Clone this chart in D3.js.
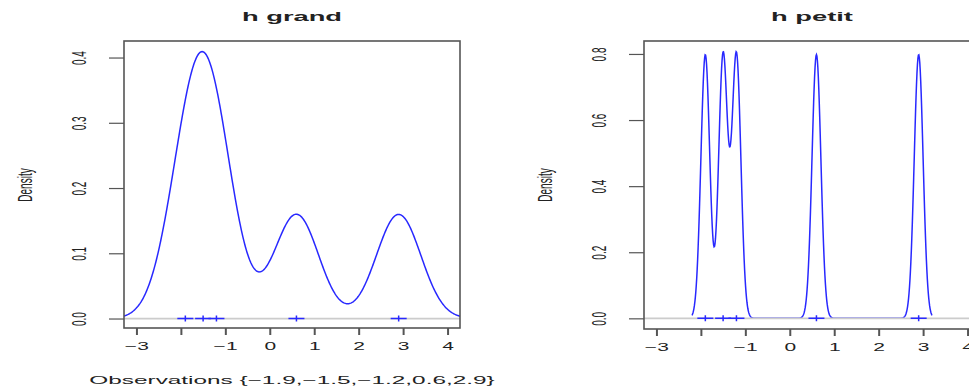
<!DOCTYPE html>
<html lang="fr">
  <head>
    <meta charset="UTF-8" />
    <title>Densité : h grand / h petit</title>
    <script src="https://d3js.org/d3.v7.min.js"></script>
    <style>
      body {
        margin: 0;
        background: #fff;
        font-family: "Liberation Sans", Arial, sans-serif;
      }
      svg text {
        fill: #222;
      }
      .tick line {
        stroke: #555;
      }
    </style>
  </head>
  <body>
    <script>
      // observations and bandwidths of the two density estimates
      var observations = [-1.9, -1.5, -1.2, 0.6, 2.9];
      var bandwidths = [0.5, 0.1];
      var panelTitles = ["h grand", "h petit"];
      var xLimits = [-3, 4];
      var xTickValues = [-3, -2, -1, 0, 1, 2, 3, 4];
      var xTickLabels = ["\u22123", "", "\u22121", "0", "1", "2", "3", "4"];
      var yTickValues = [
        [0, 0.1, 0.2, 0.3, 0.4],
        [0, 0.2, 0.4, 0.6, 0.8],
      ];
      var yTickLabels = [
        ["0.0", "0.1", "0.2", "0.3", "0.4"],
        ["0.0", "0.2", "0.4", "0.6", "0.8"],
      ];
      var xLabel = "Observations {\u22121.9,\u22121.5,\u22121.2,0.6,2.9}";
      var yLabel = "Density";

      var width = 969,
        height = 389;
      var sx = 2.1; // the picture is stretched sideways
      var panels = [
        { left: 124, top: 41, w: 336, h: 287 },
        { left: 644, top: 41, w: 336, h: 288 },
      ];

      var svg = d3
        .select("body")
        .append("svg")
        .attr("width", width)
        .attr("height", height);

      // gaussian kernel estimate, evaluated on a 512 point grid (as R does)
      function density(obs, h) {
        var lo = d3.min(obs) - 3 * h,
          hi = d3.max(obs) + 3 * h;
        var step = (hi - lo) / 511;
        return d3.range(512).map(function (i) {
          var x = lo + i * step;
          var y = d3.mean(obs, function (o) {
            var u = (x - o) / h;
            return Math.exp(-0.5 * u * u) / (h * Math.sqrt(2 * Math.PI));
          });
          return [x, y];
        });
      }

      var pad = 0.04 * (xLimits[1] - xLimits[0]);

      panels.forEach(function (p, k) {
        var pts = density(observations, bandwidths[k]);
        var ymin = d3.min(pts, function (d) { return d[1]; });
        var ymax = d3.max(pts, function (d) { return d[1]; });
        var ypad = 0.04 * (ymax - ymin);

        var x = d3
          .scaleLinear()
          .domain([xLimits[0] - pad, xLimits[1] + pad])
          .range([0, p.w]);
        var y = d3
          .scaleLinear()
          .domain([ymin - ypad, ymax + ypad])
          .range([p.h, 0]);

        var g = svg
          .append("g")
          .attr("transform", "translate(" + p.left + "," + p.top + ")");

        g.append("clipPath")
          .attr("id", "clip" + k)
          .append("rect")
          .attr("width", p.w)
          .attr("height", p.h);

        var plot = g.append("g").attr("clip-path", "url(#clip" + k + ")");

        plot
          .append("path")
          .datum(pts)
          .attr("fill", "none")
          .attr("stroke", "#2828ff")
          .attr("stroke-width", 1.5)
          .attr(
            "d",
            d3
              .line()
              .x(function (d) { return x(d[0]); })
              .y(function (d) { return y(d[1]); })
          );

        plot
          .append("line")
          .attr("x1", 0)
          .attr("x2", p.w)
          .attr("y1", y(0))
          .attr("y2", y(0))
          .attr("stroke", "#cccccc")
          .attr("stroke-width", 1.8);

        // "+" markers at each observation
        plot
          .selectAll(".obs")
          .data(observations)
          .enter()
          .append("path")
          .attr("class", "obs")
          .attr("transform", function (d) {
            return "translate(" + x(d) + "," + y(0) + ")";
          })
          .attr("d", "M-8,0H8M0,-3V3")
          .attr("fill", "none")
          .attr("stroke", "#2828ff")
          .attr("stroke-width", 1.5);

        g.append("rect")
          .attr("width", p.w)
          .attr("height", p.h)
          .attr("fill", "none")
          .attr("stroke", "#555")
          .attr("stroke-width", 1.6);

        // x axis
        var xa = g
          .append("g")
          .attr("transform", "translate(0," + p.h + ")")
          .call(
            d3
              .axisBottom(x)
              .tickValues(xTickValues)
              .tickFormat(function (d, i) { return xTickLabels[i]; })
              .tickSize(7)
              .tickSizeOuter(0)
          );
        xa.select(".domain").remove();
        xa.selectAll(".tick line").attr("stroke-width", 2);
        xa.selectAll("text")
          .attr("y", 0)
          .attr("dy", null)
          .attr("font-size", 10)
          .attr("font-family", "Liberation Sans, Arial, sans-serif")
          .attr("transform", "translate(0,22) scale(" + sx + ",1)");

        // y axis
        var ya = g.append("g").call(
          d3
            .axisLeft(y)
            .tickValues(yTickValues[k])
            .tickFormat(function (d, i) { return yTickLabels[k][i]; })
            .tickSize(15)
            .tickSizeOuter(0)
        );
        ya.select(".domain").remove();
        ya.selectAll(".tick line").attr("stroke-width", 1.2);
        ya.selectAll("text")
          .attr("x", 0)
          .attr("dy", null)
          .attr("text-anchor", "middle")
          .attr("font-size", 10)
          .attr("font-family", "Liberation Sans, Arial, sans-serif")
          .attr("transform", "translate(-38,0) scale(" + sx + ",1) rotate(-90)");

        // titles and labels
        g.append("text")
          .attr("text-anchor", "middle")
          .attr("font-weight", "bold")
          .attr("font-size", 13)
          .attr("transform", "translate(" + p.w / 2 + "," + (21 - p.top) + ") scale(" + sx + ",1)")
          .text(panelTitles[k]);

        g.append("text")
          .attr("text-anchor", "middle")
          .attr("font-size", 10)
          .attr("transform", "translate(-92," + (185 - p.top) + ") scale(" + sx + ",1) rotate(-90)")
          .text(yLabel);

        if (k === 0) {
          g.append("text")
            .attr("text-anchor", "middle")
            .attr("font-size", 11.6)
            .attr("transform", "translate(" + p.w / 2 + "," + (384 - p.top) + ") scale(" + sx + ",1)")
            .text(xLabel);
        }
      });
    </script>
  </body>
</html>
